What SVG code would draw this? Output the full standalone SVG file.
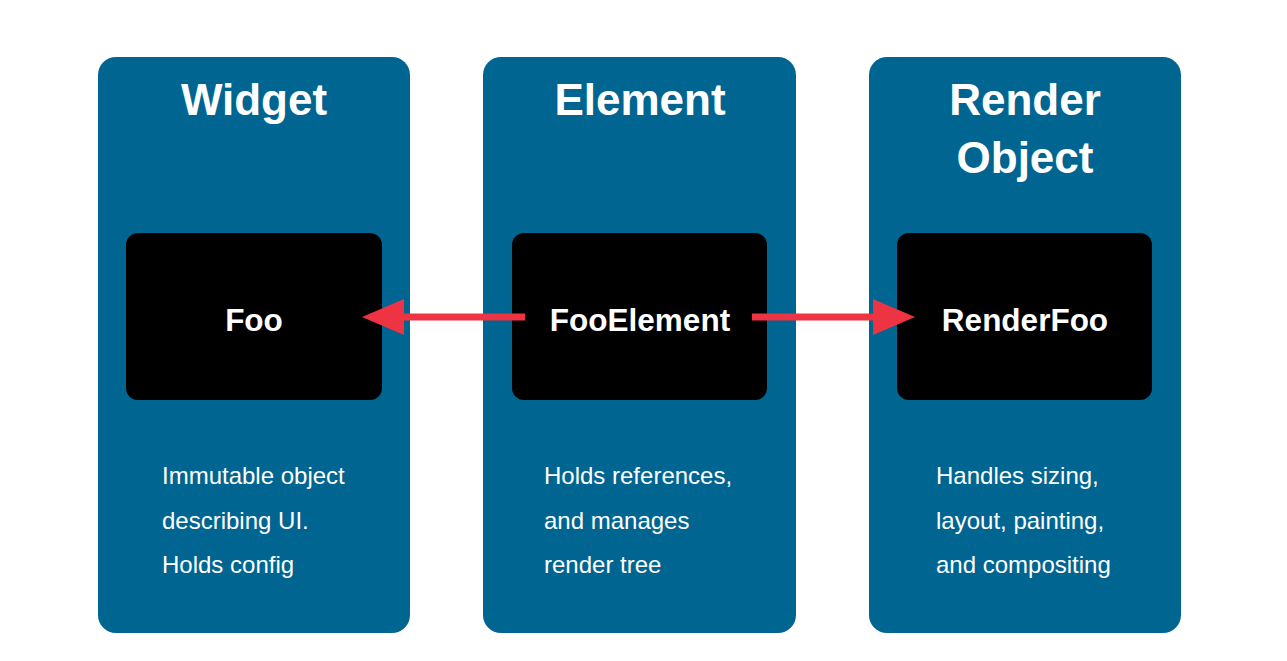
<svg xmlns="http://www.w3.org/2000/svg" width="1287" height="661" viewBox="0 0 1287 661">
<style>
.col{fill:#006591}
.box{fill:#000}
.title{font-family:"Liberation Sans",Arial,sans-serif;font-weight:bold;font-size:44px;fill:#fff;text-anchor:middle}
.lbl{font-family:"Liberation Sans",Arial,sans-serif;font-weight:bold;font-size:31.5px;fill:#fff;text-anchor:middle}
.desc{font-family:"Liberation Sans",Arial,sans-serif;font-size:24px;fill:#fff}
.arr{stroke:#ee3442;stroke-width:7;fill:none}
</style>
<rect width="1287" height="661" fill="#fff"/>
<g id="widget">
<rect class="col" x="98" y="57" width="312" height="576" rx="18"/>
<text class="title" x="254" y="115">Widget</text>
<rect class="box" x="126" y="233" width="256" height="167" rx="12"/>
<text class="lbl" x="254" y="331">Foo</text>
<text class="desc" x="162" y="484">Immutable object</text>
<text class="desc" x="162" y="529">describing UI.</text>
<text class="desc" x="162" y="573">Holds config</text>
</g>
<g id="element">
<rect class="col" x="483" y="57" width="313" height="576" rx="18"/>
<text class="title" x="640" y="115">Element</text>
<rect class="box" x="512" y="233" width="255" height="167" rx="12"/>
<text class="lbl" x="640" y="331">FooElement</text>
<text class="desc" x="544" y="484">Holds references,</text>
<text class="desc" x="544" y="529">and manages</text>
<text class="desc" x="544" y="573">render tree</text>
</g>
<g id="renderobject">
<rect class="col" x="869" y="57" width="312" height="576" rx="18"/>
<text class="title" x="1025" y="115">Render</text>
<text class="title" x="1025" y="173">Object</text>
<rect class="box" x="897" y="233" width="255" height="167" rx="12"/>
<text class="lbl" x="1025" y="331">RenderFoo</text>
<text class="desc" x="936" y="484">Handles sizing,</text>
<text class="desc" x="936" y="529">layout, painting,</text>
<text class="desc" x="936" y="573">and compositing</text>
</g>
<g id="connectors">
<line class="arr" x1="525" y1="317" x2="400" y2="317"/>
<path d="M362,317 L404,299 L404,335 Z" fill="#ee3442"/>
<line class="arr" x1="752" y1="317" x2="877" y2="317"/>
<path d="M915,317 L873,299 L873,335 Z" fill="#ee3442"/>
</g>
</svg>
